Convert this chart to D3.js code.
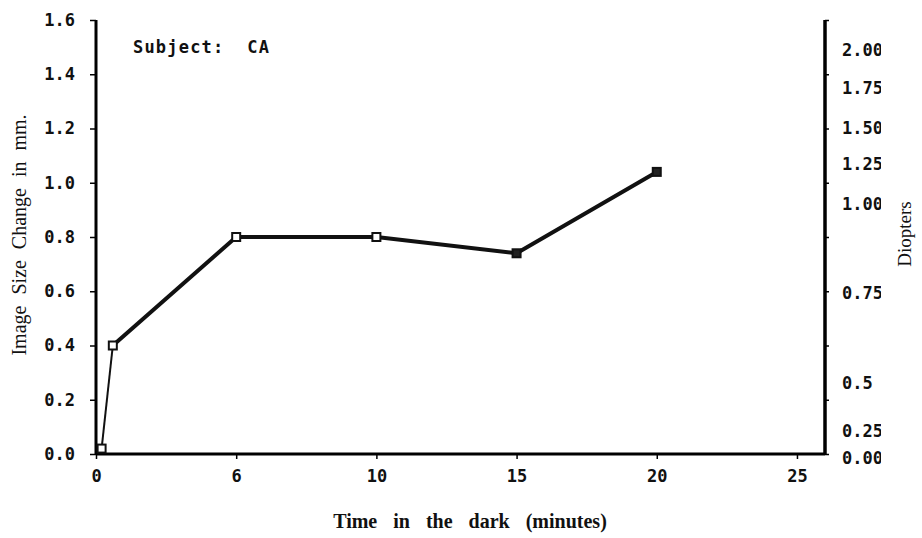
<!DOCTYPE html>
<html>
<head>
<meta charset="utf-8">
<script src="https://cdn.jsdelivr.net/npm/d3@7"></script>
<style>
  body { margin: 0; background: #fff; }
  .tick-label { font-family: "DejaVu Sans Mono", monospace; font-weight: bold; font-size: 17px; fill: #111; }
  .title { font-family: "Liberation Serif", "DejaVu Serif", serif; fill: #111; }
</style>
</head>
<body>
<div id="vis"></div>
<script>
// Declare constants
const FRAME_WIDTH = 922;
const FRAME_HEIGHT = 538;
const MARGINS = {left: 96, right: 97, top: 20, bottom: 84};

const VIS_WIDTH = FRAME_WIDTH - MARGINS.left - MARGINS.right;
const VIS_HEIGHT = FRAME_HEIGHT - MARGINS.top - MARGINS.bottom;

// data
const minutes = [0.2, 0.6, 5, 10, 15, 20];
const sizeChange = [0.02, 0.40, 0.80, 0.80, 0.74, 1.04];
const filled = [false, false, false, false, true, true];

const xTickValues = [0, 5, 10, 15, 20, 25];
const xTickLabels = ["0", "6", "10", "15", "20", "25"];
const yTickValues = [0, 0.2, 0.4, 0.6, 0.8, 1.0, 1.2, 1.4, 1.6];

// diopter labels and the mm height where each one sits
const diopterLabels = ["2.00", "1.75", "1.50", "1.25", "1.00", "0.75", "0.5", "0.25", "0.00"];
const diopterAt = [1.49, 1.35, 1.20, 1.07, 0.92, 0.595, 0.26, 0.085, -0.015];

const FRAME = d3.select("#vis")
                .append("svg")
                  .attr("width", FRAME_WIDTH)
                  .attr("height", FRAME_HEIGHT);

const X_SCALE = d3.scaleLinear().domain([0, 26]).range([0, VIS_WIDTH]);
const Y_SCALE = d3.scaleLinear().domain([0, 1.6]).range([VIS_HEIGHT, 0]);

const G = FRAME.append("g")
               .attr("transform", "translate(" + MARGINS.left + "," + MARGINS.top + ")");

// clip for the cut off diopter labels
FRAME.append("clipPath").attr("id", "rclip")
     .append("rect").attr("x", 0).attr("y", 0).attr("width", 881).attr("height", FRAME_HEIGHT);

// left axis
const yAxis = G.append("g")
               .call(d3.axisLeft(Y_SCALE).tickValues(yTickValues).tickSize(6).tickPadding(15)
                       .tickFormat(d3.format(".1f")));
yAxis.select(".domain").attr("stroke-width", 3).attr("d", "M0," + VIS_HEIGHT + "V0");
yAxis.selectAll(".tick line").attr("stroke-width", 1.5);
yAxis.selectAll("text").attr("class", "tick-label").attr("font-size", null).attr("font-family", null);

// bottom axis
const xAxis = G.append("g")
               .attr("transform", "translate(0," + VIS_HEIGHT + ")")
               .call(d3.axisBottom(X_SCALE).tickValues(xTickValues).tickSize(5).tickPadding(11)
                       .tickFormat((d, i) => xTickLabels[i]));
xAxis.select(".domain").attr("stroke-width", 3).attr("d", "M0,0H" + VIS_WIDTH);
xAxis.selectAll(".tick line").attr("stroke-width", 1.5);
xAxis.selectAll("text").attr("class", "tick-label").attr("font-size", null).attr("font-family", null);

// right axis, ticks only
const rAxis = G.append("g")
               .attr("transform", "translate(" + VIS_WIDTH + ",0)")
               .call(d3.axisRight(Y_SCALE).tickValues(yTickValues).tickSize(4).tickFormat(""));
rAxis.select(".domain").attr("stroke-width", 3.5).attr("d", "M0,0V" + VIS_HEIGHT);
rAxis.selectAll(".tick line").attr("stroke-width", 1.5);

// diopter labels
FRAME.append("g").attr("clip-path", "url(#rclip)")
     .selectAll("text")
     .data(diopterLabels)
     .enter()
     .append("text")
       .attr("class", "tick-label")
       .attr("x", 842)
       .attr("y", (d, i) => MARGINS.top + Y_SCALE(diopterAt[i]))
       .attr("dy", "0.35em")
       .text(d => d);

// line
const pts = minutes.map((m, i) => ({m: m, v: sizeChange[i], f: filled[i]}));
const line = d3.line().x(d => X_SCALE(d.m)).y(d => Y_SCALE(d.v));

G.append("path").datum(pts.slice(0, 2))
 .attr("d", line).attr("fill", "none").attr("stroke", "#111").attr("stroke-width", 2);
G.append("path").datum(pts.slice(1))
 .attr("d", line).attr("fill", "none").attr("stroke", "#111").attr("stroke-width", 4)
 .attr("stroke-linejoin", "round");

// markers
G.selectAll(".pt")
 .data(pts)
 .enter()
 .append("rect")
   .attr("class", "pt")
   .attr("x", d => X_SCALE(d.m) - 4)
   .attr("y", d => Y_SCALE(d.v) - 4)
   .attr("width", 8)
   .attr("height", 8)
   .attr("fill", d => d.f ? "#222" : "#fff")
   .attr("stroke", "#111")
   .attr("stroke-width", 2);

// texts
FRAME.append("text")
     .attr("class", "tick-label")
     .attr("x", 133).attr("y", 53)
     .attr("letter-spacing", "1.2px")
     .attr("xml:space", "preserve")
     .text("Subject:  CA");

FRAME.append("text")
     .attr("class", "title")
     .attr("transform", "translate(26,235) rotate(-90)")
     .attr("text-anchor", "middle")
     .attr("font-size", "20px")
     .attr("word-spacing", "6px")
     .text("Image Size Change in mm.");

FRAME.append("text")
     .attr("class", "title")
     .attr("transform", "translate(911,234) rotate(-90)")
     .attr("text-anchor", "middle")
     .attr("font-size", "19px")
     .text("Diopters");

FRAME.append("text")
     .attr("class", "title")
     .attr("x", 470).attr("y", 528)
     .attr("text-anchor", "middle")
     .attr("font-size", "20px")
     .attr("font-weight", "bold")
     .attr("word-spacing", "11px")
     .text("Time in the dark (minutes)");
</script>
</body>
</html>
